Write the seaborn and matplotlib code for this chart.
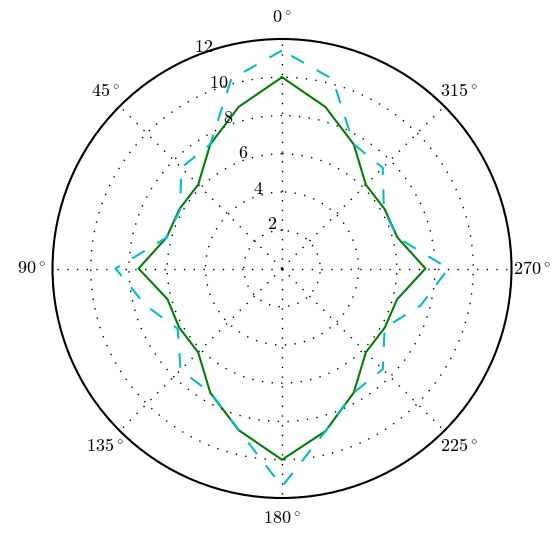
import numpy as np
import pandas as pd
import matplotlib.pyplot as plt
import seaborn as sns

# radii, one point every 15 degrees (closed loop)
angles_deg = list(range(0, 361, 15))
green_r = [10, 8.75, 7.5, 6.2, 6.2, 6.25, 7.5, 6.2, 6.2, 6.2, 7.5, 8.75, 10,
           8.8, 7.5, 6.2, 6.2, 6.23, 7.5, 6.25, 6.2, 6.2, 7.5, 8.75, 10]
cyan_r = [11.4, 10.25, 7.5, 7.45, 6.15, 6.25, 8.7, 7.4, 6.3, 7.5, 7.5, 8.75, 11.4,
          8.8, 7.5, 7.45, 6.2, 7.5, 8.7, 6.25, 6.15, 7.45, 7.5, 10.25, 11.4]
r_ticks = [2, 4, 6, 8, 10, 12]
theta_ticks = [0, 45, 90, 135, 180, 225, 270, 315]

sns.set_style("white")
plt.rcParams["mathtext.fontset"] = "cm"
plt.rcParams["lines.scale_dashes"] = False
plt.rcParams["text.color"] = "black"
plt.rcParams["xtick.color"] = "black"
plt.rcParams["ytick.color"] = "black"

df = pd.DataFrame({"theta": np.deg2rad(angles_deg), "green": green_r, "cyan": cyan_r})

fig = plt.figure(figsize=(5.56, 5.33), dpi=100)
ax = fig.add_axes([52.5 / 556, 35 / 533, 459 / 556, 459 / 533], projection="polar")
ax.set_theta_zero_location("N")
ax.set_theta_direction(1)

sns.lineplot(data=df, x="theta", y="green", ax=ax, color="green", lw=1.5,
             sort=False, estimator=None)
sns.lineplot(data=df, x="theta", y="cyan", ax=ax, color="c", lw=1.5,
             sort=False, estimator=None, linestyle=(0, (10.5, 10.5)))

ax.set_ylim(0, 12)
ax.set_yticks(r_ticks)
ax.set_yticklabels([])
ax.set_xticks(np.deg2rad(theta_ticks))
ax.set_xticklabels([rf"${t}^\circ$" for t in theta_ticks], fontsize=13)
ax.tick_params(axis="x", pad=4.5)
ax.set_xlabel("")
ax.set_ylabel("")
ax.grid(True, color="black", linestyle=(0, (1, 6)), linewidth=1.0)
ax.spines["polar"].set_linewidth(1.5)
ax.spines["polar"].set_color("black")

for r in r_ticks:
    ax.text(np.deg2rad(22.5), r, rf"${r}$", fontsize=13, ha="left", va="bottom")

plt.savefig("out.png", dpi=100)
